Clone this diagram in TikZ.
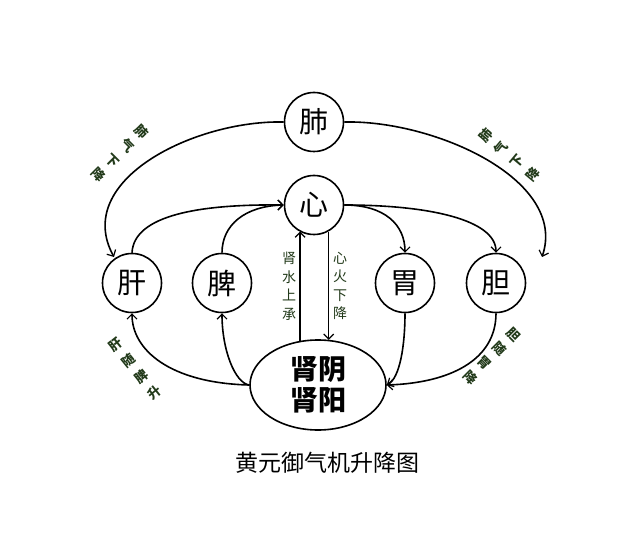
\documentclass[tikz,border=0pt]{standalone}
\usepackage{fontspec}
\newfontfamily\cjk{Noto Sans CJK SC}
\usetikzlibrary{shapes.geometric,arrows.meta}
\definecolor{lbl}{RGB}{34,58,26}
\begin{document}
\begin{tikzpicture}[x=1pt,y=-1pt,
  organ/.style={circle,draw,line width=1.6pt,minimum size=59pt,inner sep=0pt,font=\cjk\fontsize{29}{30}\selectfont},
  conn/.style={line width=1.6pt},
  arr/.style={conn,-{Straight Barb[length=5pt,width=10pt,line width=1.2pt]}},
  side/.style={text=lbl,align=center,inner sep=0pt,font=\cjk\bfseries\fontsize{13}{20.5}\selectfont},
  mid/.style={text=lbl,align=center,inner sep=0pt,font=\cjk\fontsize{14}{18.5}\selectfont}]
\useasboundingbox[fill=white] (0,0) rectangle (640,548);
% organs
\node[organ] (fei) at (314,122) {肺};
\node[organ] (xin) at (314,205) {心};
\node[organ] (gan) at (132,283) {肝};
\node[organ] (pi)  at (222,283) {脾};
\node[organ] (wei) at (405,283) {胃};
\node[organ] (dan) at (496,283) {胆};
\node[ellipse,draw,line width=1.6pt,minimum width=136pt,minimum height=90pt,inner sep=0pt,
      align=center,font=\cjk\bfseries\fontsize{28}{31}\selectfont] (shen) at (318,385) {肾阴\\肾阳};
% big arcs from the lung
\coordinate (lend) at (114,257);
\coordinate (rend) at (542,257);
\draw[arr] (fei.west) .. controls (195,120) and (72,180) .. (lend);
\draw[arr] (fei.east) .. controls (435,120) and (568,180) .. (rend);
% liver, spleen up to heart
\draw[arr] (gan.north) .. controls (134,215) and (200,204) .. (xin.west);
\draw[arr] (pi.north) .. controls (222,225) and (245,206) .. (xin.west);
% heart down to stomach, gallbladder
\draw[arr] (xin.east) .. controls (385,205) and (405,225) .. (wei.north);
\draw[arr] (xin.east) .. controls (430,205) and (496,220) .. (dan.north);
% kidney up to liver, spleen
\draw[arr] (shen.west) .. controls (170,383) and (132,350) .. (gan.south);
\draw[arr] (shen.west) .. controls (235,383) and (222,350) .. (pi.south);
% stomach, gallbladder down to kidney
\draw[arr] (wei.south) .. controls (405,345) and (400,378) .. (shen.east);
\draw[arr] (dan.south) .. controls (496,360) and (450,383) .. (shen.east);
% vertical water / fire lines
\draw[arr] (shen.112) -- (shen.112 |- xin.-119);
\draw[arr] (xin.-61) -- (xin.-61 |- shen.76);
% labels
\node[mid] (l1) at (289,286) {肾\\水\\上\\承};
\node[mid] (l2) at (340,286) {心\\火\\下\\降};
\node[side,rotate=-45] (l3) at (120,153) {肺\\气\\下\\降};
\node[side,rotate=50] (l4) at (509,155) {肺\\气\\下\\降};
\node[side,rotate=39] (l5) at (135,369) {肝\\随\\脾\\升};
\node[side,rotate=-45] (l6) at (492,356) {胆\\随\\胃\\降};
\node[font=\cjk\fontsize{23}{25}\selectfont,inner sep=0pt] (cap) at (327,463) {黄元御气机升降图};
\end{tikzpicture}
\end{document}
